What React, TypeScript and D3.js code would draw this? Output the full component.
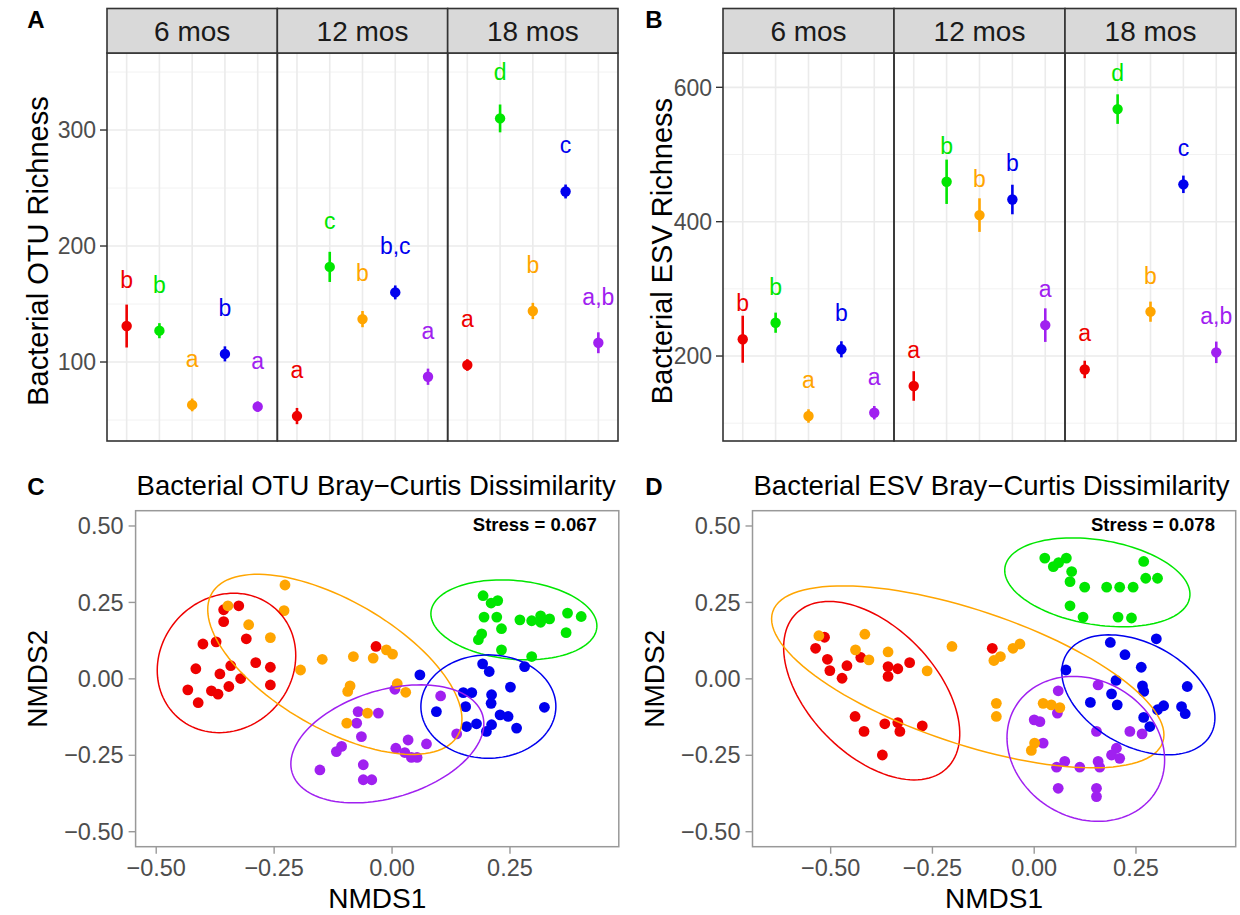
import React from "react";
import * as d3 from "d3";

const FONT = "'Liberation Sans', Arial, Helvetica, sans-serif";
const W = 1240;
const H = 915;

// ---------- shared categories ----------
const groups = ["G1", "G2", "G3", "G4", "G5"];
const groupColors = ["#EE0000", "#00E600", "#FFA500", "#0000EE", "#A020F0"];
const timepoints = ["6 mos", "12 mos", "18 mos"];

// ---------- Panel A: OTU richness (mean, se, letters) per timepoint ----------
const otuMean = [
  [131, 127, 63, 107, 61.5],
  [53.4, 182, 137, 160, 87.3],
  [97.4, 310, 144, 247, 116.6],
];
const otuSe = [
  [18.5, 6.5, 5.5, 6.5, 4.5],
  [7, 13, 7, 6, 7],
  [5, 12, 7, 6, 9],
];
const otuLetters = [
  ["b", "b", "a", "b", "a"],
  ["a", "c", "b", "b,c", "a"],
  ["a", "d", "b", "c", "a,b"],
];
const otuMajorTicks = [100, 200, 300];
const otuMinorTicks = [50, 150, 250, 350];

// ---------- Panel B: ESV richness ----------
const esvMean = [
  [225, 249.6, 110.7, 210, 115.6],
  [155.4, 459.4, 409.8, 433, 246],
  [180, 567.6, 266, 455.6, 205.5],
];
const esvSe = [
  [35, 15, 10, 12, 10],
  [22, 33, 25, 22, 25],
  [13, 22, 15, 13, 16],
];
const esvLetters = [
  ["b", "b", "a", "b", "a"],
  ["a", "b", "b", "b", "a"],
  ["a", "d", "b", "c", "a,b"],
];
const esvMajorTicks = [200, 400, 600];
const esvMinorTicks = [100, 300, 500];

// ---------- Panel C: OTU NMDS ----------
const cRed = [[-0.357,0.226],[-0.325,0.239],[-0.357,0.187],[-0.401,0.114],[-0.373,0.121],[-0.309,0.131],[-0.416,0.033],[-0.342,0.043],[-0.365,0.016],[-0.289,0.053],[-0.258,0.038],[-0.321,0.001],[-0.433,-0.036],[-0.383,-0.039],[-0.369,-0.050],[-0.346,-0.025],[-0.258,-0.020],[-0.411,-0.078],[-0.034,0.106]];
const cGreen = [[0.193,0.272],[0.210,0.248],[0.224,0.256],[0.195,0.202],[0.222,0.202],[0.232,0.164],[0.271,0.193],[0.190,0.147],[0.183,0.128],[0.232,0.095],[0.296,0.190],[0.315,0.206],[0.334,0.196],[0.372,0.215],[0.401,0.204],[0.369,0.151],[0.296,0.073],[0.315,0.185]];
const cOrange = [[-0.348,0.239],[-0.227,0.307],[-0.229,0.223],[-0.304,0.177],[-0.258,0.135],[-0.194,0.029],[-0.148,0.064],[-0.082,0.073],[-0.040,0.068],[-0.012,0.095],[0.001,0.081],[-0.089,-0.023],[-0.094,-0.041],[0.011,-0.016],[0.029,-0.044],[-0.052,-0.112],[-0.096,-0.145]];
const cBlue = [[0.059,0.013],[0.192,0.049],[0.206,0.024],[0.151,-0.045],[0.169,-0.045],[0.211,-0.052],[0.210,-0.080],[0.251,-0.027],[0.094,-0.107],[0.156,-0.091],[0.229,-0.118],[0.246,-0.123],[0.179,-0.147],[0.158,-0.156],[0.211,-0.150],[0.200,-0.172],[0.264,-0.161],[0.281,0.040],[0.323,-0.093]];
const cPurple = [[0.006,-0.034],[0.103,-0.056],[-0.072,-0.107],[-0.029,-0.112],[-0.075,-0.145],[-0.065,-0.189],[-0.107,-0.221],[-0.118,-0.238],[-0.153,-0.298],[-0.061,-0.281],[-0.061,-0.330],[-0.043,-0.330],[0.034,-0.200],[0.008,-0.227],[0.027,-0.241],[0.041,-0.257],[0.053,-0.257],[0.073,-0.213],[0.137,-0.180]];
// ellipse: [centerX, centerY, U.x, U.y, V.x, V.y] (conjugate semi-diameters, data units)
const cEllipses = [
  [-0.351, 0.052, 0.0155, 0.228, 0.146, 0],
  [0.2583, 0.193, 0.1758, -0.0255, -0.0078, -0.1282],
  [-0.1213, 0.0474, 0.2608, -0.2323, -0.0679, -0.1812],
  [0.2042, -0.0906, 0.1431, 0, 0, 0.1691],
  [-0.01, -0.2126, 0.2019, 0.0942, 0.0331, -0.1685],
];

// ---------- Panel D: ESV NMDS ----------
const dRed = [[-0.515,0.136],[-0.537,0.100],[-0.508,0.064],[-0.502,0.027],[-0.472,0.002],[-0.460,0.043],[-0.426,0.070],[-0.359,0.040],[-0.359,0.008],[-0.335,0.033],[-0.306,0.053],[-0.440,-0.123],[-0.418,-0.172],[-0.367,-0.147],[-0.335,-0.143],[-0.330,-0.172],[-0.275,-0.154],[-0.373,-0.249],[-0.103,0.100]];
const dGreen = [[0.026,0.395],[0.047,0.367],[0.079,0.395],[0.092,0.351],[0.088,0.318],[0.124,0.300],[0.178,0.300],[0.210,0.300],[0.243,0.300],[0.088,0.239],[0.120,0.202],[0.206,0.202],[0.239,0.199],[0.269,0.384],[0.274,0.329],[0.303,0.329],[0.060,0.380]];
const dOrange = [[-0.529,0.141],[-0.416,0.146],[-0.439,0.095],[-0.406,0.062],[-0.359,0.088],[-0.263,0.026],[-0.202,0.106],[-0.099,0.060],[-0.083,0.073],[-0.052,0.100],[-0.035,0.114],[-0.093,-0.080],[-0.093,-0.123],[0.022,-0.080],[0.042,-0.085],[0.063,-0.094],[0.001,-0.210],[-0.007,-0.234]];
const dBlue = [[0.187,0.119],[0.223,0.079],[0.300,0.131],[0.078,0.029],[0.263,0.038],[0.201,-0.005],[0.266,-0.023],[0.269,-0.041],[0.376,-0.025],[0.190,-0.049],[0.138,-0.077],[0.204,-0.085],[0.318,-0.088],[0.303,-0.101],[0.362,-0.091],[0.371,-0.114],[0.269,-0.126],[0.284,-0.156]];
const dPurple = [[0.059,-0.039],[0.157,-0.020],[0.057,-0.112],[0.000,-0.134],[0.014,-0.140],[0.022,-0.210],[0.153,-0.172],[0.235,-0.172],[0.202,-0.227],[0.190,-0.249],[0.210,-0.260],[0.055,-0.289],[0.075,-0.270],[0.112,-0.289],[0.157,-0.270],[0.161,-0.289],[0.059,-0.358],[0.153,-0.358],[0.153,-0.385],[0.265,-0.180]];
const dEllipses = [
  [-0.3992, -0.0386, 0.1849, -0.2532, -0.1123, -0.1452],
  [0.1551, 0.3157, 0.2269, -0.0494, -0.017, -0.1367],
  [-0.1632, 0.0065, 0.4791, -0.2133, -0.0521, -0.2074],
  [0.2559, -0.0523, 0.178, -0.1295, -0.0607, -0.1475],
  [0.1268, -0.229, 0.1731, -0.1377, -0.0868, -0.193],
];

const nmdsTicks = [-0.5, -0.25, 0, 0.25, 0.5];
const nmdsXTicks = [-0.5, -0.25, 0, 0.25];
const drawOrder = [0, 4, 2, 3, 1]; // red, purple, orange, blue, green

const titleC = "Bacterial OTU Bray\u2212Curtis Dissimilarity";
const titleD = "Bacterial ESV Bray\u2212Curtis Dissimilarity";

const fmt = d3.format(".2f");

function RichnessPanel(p: any) {
  const y = d3.scaleLinear().domain(p.yDomain).range([p.bottom, p.stripBottom]);
  const fw = (p.right - p.left) / timepoints.length;
  const facets = timepoints.map((tp, f) => {
    const x0 = p.left + f * fw;
    const x = d3.scalePoint<string>().domain(groups).range([x0, x0 + fw]).padding(0.6);
    return { tp, f, x0, x };
  });
  return (
    <g>
      {facets.map(({ x0, x, f }) => (
        <g key={"bg" + f}>
          <rect x={x0} y={p.stripBottom} width={fw} height={p.bottom - p.stripBottom} fill="#fff" />
          {p.minors.map((v: number) => (
            <line key={"mi" + v} x1={x0} x2={x0 + fw} y1={y(v)} y2={y(v)} stroke="#F2F2F2" strokeWidth={1} />
          ))}
          {p.majors.map((v: number) => (
            <line key={"ma" + v} x1={x0} x2={x0 + fw} y1={y(v)} y2={y(v)} stroke="#EBEBEB" strokeWidth={1.6} />
          ))}
          {groups.map((g) => (
            <line key={"vg" + g} x1={x(g)} x2={x(g)} y1={p.stripBottom} y2={p.bottom} stroke="#EBEBEB" strokeWidth={1.6} />
          ))}
        </g>
      ))}
      {facets.map(({ x, f }) => (
        <g key={"data" + f}>
          {groups.map((g, i) => {
            const m = p.mean[f][i];
            const s = p.se[f][i];
            const cx = x(g) as number;
            return (
              <g key={g}>
                <line x1={cx} x2={cx} y1={y(m - s)} y2={y(m + s)} stroke={groupColors[i]} strokeWidth={2.6} />
                <circle cx={cx} cy={y(m)} r={5.2} fill={groupColors[i]} />
                <text x={cx} y={y(m + p.labelOffset)} textAnchor="middle" fontFamily={FONT} fontSize={23} fill={groupColors[i]}>
                  {p.letters[f][i]}
                </text>
              </g>
            );
          })}
        </g>
      ))}
      {facets.map(({ x0, f, tp }) => (
        <g key={"frame" + f}>
          <rect x={x0} y={p.stripBottom} width={fw} height={p.bottom - p.stripBottom} fill="none" stroke="#333" strokeWidth={1.6} />
          <rect x={x0} y={p.stripTop} width={fw} height={p.stripBottom - p.stripTop} fill="#D9D9D9" stroke="#333" strokeWidth={1.6} />
          <text x={x0 + fw / 2} y={(p.stripTop + p.stripBottom) / 2 + 10} textAnchor="middle" fontFamily={FONT} fontSize={28} fill="#1A1A1A">
            {tp}
          </text>
        </g>
      ))}
      {p.majors.map((v: number) => (
        <g key={"t" + v}>
          <line x1={p.left - 7} x2={p.left} y1={y(v)} y2={y(v)} stroke="#333" strokeWidth={1.4} />
          <text x={p.left - 11} y={y(v) + 8.2} textAnchor="end" fontFamily={FONT} fontSize={23} fill="#4D4D4D">
            {v}
          </text>
        </g>
      ))}
      <text
        transform={`translate(${p.titleX},${(p.stripBottom + p.bottom) / 2 + 4}) rotate(-90)`}
        textAnchor="middle"
        fontFamily={FONT}
        fontSize={29}
        fill="#000"
      >
        {p.title}
      </text>
      <text x={p.letterX} y={28} textAnchor="middle" fontFamily={FONT} fontSize={24} fontWeight="bold" fill="#000">
        {p.panelLetter}
      </text>
    </g>
  );
}

function NmdsPanel(p: any) {
  const x = d3.scaleLinear().domain(p.xDomain).range([p.left, p.right]);
  const y = d3.scaleLinear().domain(p.yDomain).range([p.bottom, p.top]);
  const ts = d3.range(0, 121).map((k) => (k / 120) * Math.PI * 2);
  const ellipseLine = d3.line().curve(d3.curveLinearClosed) as any;
  return (
    <g>
      <rect x={p.left} y={p.top} width={p.right - p.left} height={p.bottom - p.top} fill="#fff" />
      {drawOrder.map((i) => (
        <g key={"pts" + i}>
          {p.points[i].map((d: number[], k: number) => (
            <circle key={k} cx={x(d[0])} cy={y(d[1])} r={5.4} fill={groupColors[i]} />
          ))}
        </g>
      ))}
      {p.ellipses.map((e: number[], i: number) => {
        const pts = ts.map((t) => [
          x(e[0] + e[2] * Math.cos(t) + e[4] * Math.sin(t)),
          y(e[1] + e[3] * Math.cos(t) + e[5] * Math.sin(t)),
        ]);
        return <path key={"el" + i} d={ellipseLine(pts)} fill="none" stroke={groupColors[i]} strokeWidth={1.5} />;
      })}
      <rect x={p.left} y={p.top} width={p.right - p.left} height={p.bottom - p.top} fill="none" stroke="#999" strokeWidth={1.5} />
      {nmdsTicks.map((v) => (
        <g key={"yt" + v}>
          <line x1={p.left - 7} x2={p.left} y1={y(v)} y2={y(v)} stroke="#999" strokeWidth={1.4} />
          <text x={p.left - 12} y={y(v) + 8.2} textAnchor="end" fontFamily={FONT} fontSize={23.5} fill="#4D4D4D">
            {fmt(v)}
          </text>
        </g>
      ))}
      {nmdsXTicks.map((v) => (
        <g key={"xt" + v}>
          <line x1={x(v)} x2={x(v)} y1={p.bottom} y2={p.bottom + 7} stroke="#999" strokeWidth={1.4} />
          <text x={x(v)} y={p.bottom + 29} textAnchor="middle" fontFamily={FONT} fontSize={23.5} fill="#4D4D4D">
            {fmt(v)}
          </text>
        </g>
      ))}
      <text x={(p.left + p.right) / 2} y={p.bottom + 61} textAnchor="middle" fontFamily={FONT} fontSize={28} fill="#000">
        NMDS1
      </text>
      <text
        transform={`translate(${p.left - 89},${(p.top + p.bottom) / 2}) rotate(-90)`}
        textAnchor="middle"
        fontFamily={FONT}
        fontSize={28}
        fill="#000"
      >
        NMDS2
      </text>
      <text x={p.left + 1} y={p.top - 16} textAnchor="start" fontFamily={FONT} fontSize={27.5} fill="#000">
        {p.title}
      </text>
      <text x={x(p.stressPos[0])} y={y(p.stressPos[1])} textAnchor="end" fontFamily={FONT} fontSize={18.5} fontWeight="bold" fill="#000">
        {p.stress}
      </text>
      <text x={p.letterX} y={p.top - 16} textAnchor="middle" fontFamily={FONT} fontSize={24} fontWeight="bold" fill="#000">
        {p.panelLetter}
      </text>
    </g>
  );
}

export default function App() {
  return (
    <svg width={W} height={H} viewBox={`0 0 ${W} ${H}`} style={{ position: "absolute", left: 0, top: 0, background: "#fff" }}>
      <rect x={0} y={0} width={W} height={H} fill="#fff" />
      <RichnessPanel
        left={107}
        right={618}
        stripTop={8.5}
        stripBottom={53}
        bottom={441}
        yDomain={[31.9, 366.4]}
        majors={otuMajorTicks}
        minors={otuMinorTicks}
        mean={otuMean}
        se={otuSe}
        letters={otuLetters}
        labelOffset={32.8}
        title="Bacterial OTU Richness"
        titleX={48}
        panelLetter="A"
        letterX={36}
      />
      <RichnessPanel
        left={723}
        right={1236}
        stripTop={8.5}
        stripBottom={53}
        bottom={441}
        yDomain={[73.5, 651.1]}
        majors={esvMajorTicks}
        minors={esvMinorTicks}
        mean={esvMean}
        se={esvSe}
        letters={esvLetters}
        labelOffset={41.7}
        title="Bacterial ESV Richness"
        titleX={672}
        panelLetter="B"
        letterX={654}
      />
      <NmdsPanel
        left={135.6}
        right={618.8}
        top={510.7}
        bottom={846.7}
        xDomain={[-0.5437, 0.4807]}
        yDomain={[-0.549, 0.55]}
        points={[cRed, cGreen, cOrange, cBlue, cPurple]}
        ellipses={cEllipses}
        title={titleC}
        stress="Stress = 0.067"
        stressPos={[0.434, 0.482]}
        panelLetter="C"
        letterX={36}
      />
      <NmdsPanel
        left={752.5}
        right={1235.7}
        top={510.7}
        bottom={846.7}
        xDomain={[-0.692, 0.495]}
        yDomain={[-0.549, 0.55]}
        points={[dRed, dGreen, dOrange, dBlue, dPurple]}
        ellipses={dEllipses}
        title={titleD}
        stress="Stress = 0.078"
        stressPos={[0.444, 0.482]}
        panelLetter="D"
        letterX={654}
      />
    </svg>
  );
}
